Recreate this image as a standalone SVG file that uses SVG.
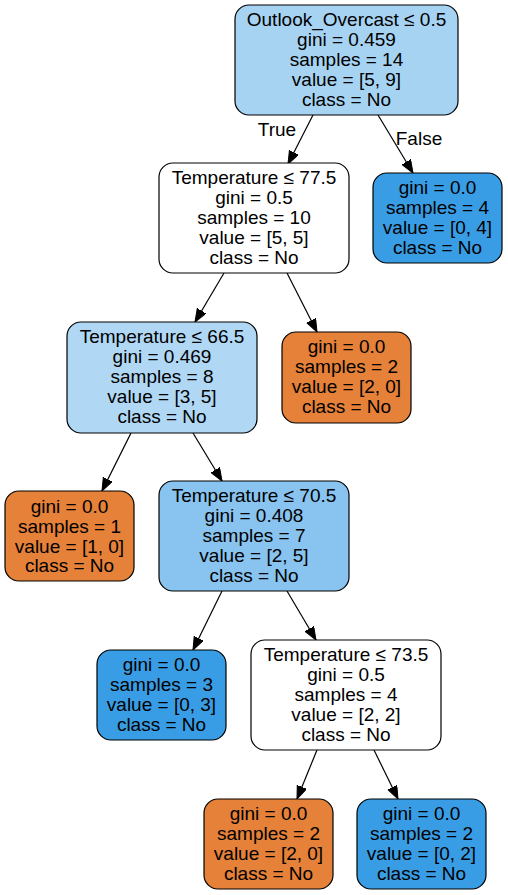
<svg xmlns="http://www.w3.org/2000/svg" width="508" height="895" viewBox="0 0 508 895">
<defs>
<marker id="arr" markerUnits="userSpaceOnUse" markerWidth="14" markerHeight="11" refX="13" refY="5" orient="auto">
<path d="M0,0 L13,5 L0,10 z" fill="#000" stroke="#000" stroke-width="1"/>
</marker>
<style>
.n{stroke:#000;stroke-width:1.2}
text{font-family:"Liberation Sans",Arial,sans-serif;font-size:19px;fill:#000;text-anchor:middle}
.e{stroke:#000;stroke-width:1.2;fill:none;marker-end:url(#arr)}
</style>
</defs>
<rect width="508" height="895" fill="#fff"/>
<g id="edges">
<line class="e" x1="313" y1="115" x2="288" y2="164"/>
<line class="e" x1="378" y1="115" x2="413" y2="173"/>
<line class="e" x1="224" y1="273" x2="195" y2="322"/>
<line class="e" x1="287" y1="273" x2="317" y2="332"/>
<line class="e" x1="131" y1="433" x2="102" y2="491"/>
<line class="e" x1="193" y1="433" x2="222" y2="481"/>
<line class="e" x1="222" y1="591" x2="193" y2="650"/>
<line class="e" x1="287" y1="591" x2="316" y2="640"/>
<line class="e" x1="317" y1="750" x2="297" y2="799"/>
<line class="e" x1="374" y1="750" x2="398" y2="799"/>
<text x="277" y="136">True</text>
<text x="419" y="145">False</text>
</g>
<g id="node0">
<rect class="n" x="235" y="5" width="223" height="110" rx="14" fill="#a7d3f3"/>
<text x="346.5" y="25.5">Outlook_Overcast ≤ 0.5</text>
<text x="346.5" y="45.5">gini = 0.459</text>
<text x="346.5" y="65.5">samples = 14</text>
<text x="346.5" y="85.5">value = [5, 9]</text>
<text x="346.5" y="105.5">class = No</text>
</g>
<g id="node1">
<rect class="n" x="159" y="163" width="190" height="110" rx="14" fill="#ffffff"/>
<text x="254" y="183.5">Temperature ≤ 77.5</text>
<text x="254" y="203.5">gini = 0.5</text>
<text x="254" y="223.5">samples = 10</text>
<text x="254" y="243.5">value = [5, 5]</text>
<text x="254" y="263.5">class = No</text>
</g>
<g id="node2">
<rect class="n" x="373" y="173" width="129" height="90" rx="14" fill="#399de5"/>
<text x="437.5" y="194">gini = 0.0</text>
<text x="437.5" y="214">samples = 4</text>
<text x="437.5" y="234">value = [0, 4]</text>
<text x="437.5" y="254">class = No</text>
</g>
<g id="node3">
<rect class="n" x="67" y="322" width="190" height="111" rx="14" fill="#b0d8f5"/>
<text x="162" y="342.5">Temperature ≤ 66.5</text>
<text x="162" y="362.5">gini = 0.469</text>
<text x="162" y="382.5">samples = 8</text>
<text x="162" y="402.5">value = [3, 5]</text>
<text x="162" y="422.5">class = No</text>
</g>
<g id="node4">
<rect class="n" x="282" y="332" width="129" height="91" rx="14" fill="#e58139"/>
<text x="346.5" y="353">gini = 0.0</text>
<text x="346.5" y="373">samples = 2</text>
<text x="346.5" y="393">value = [2, 0]</text>
<text x="346.5" y="413">class = No</text>
</g>
<g id="node5">
<rect class="n" x="5" y="491" width="129" height="90" rx="14" fill="#e58139"/>
<text x="69.5" y="512.5">gini = 0.0</text>
<text x="69.5" y="532.5">samples = 1</text>
<text x="69.5" y="552.5">value = [1, 0]</text>
<text x="69.5" y="572">class = No</text>
</g>
<g id="node6">
<rect class="n" x="159" y="481" width="190" height="110" rx="14" fill="#88c4ef"/>
<text x="254" y="501.5">Temperature ≤ 70.5</text>
<text x="254" y="521.5">gini = 0.408</text>
<text x="254" y="541.5">samples = 7</text>
<text x="254" y="561.5">value = [2, 5]</text>
<text x="254" y="581.5">class = No</text>
</g>
<g id="node7">
<rect class="n" x="97" y="650" width="129" height="90" rx="14" fill="#399de5"/>
<text x="161.5" y="671">gini = 0.0</text>
<text x="161.5" y="691">samples = 3</text>
<text x="161.5" y="711">value = [0, 3]</text>
<text x="161.5" y="731">class = No</text>
</g>
<g id="node8">
<rect class="n" x="251" y="640" width="190" height="110" rx="14" fill="#ffffff"/>
<text x="346" y="660.5">Temperature ≤ 73.5</text>
<text x="346" y="680.5">gini = 0.5</text>
<text x="346" y="700.5">samples = 4</text>
<text x="346" y="720.5">value = [2, 2]</text>
<text x="346" y="740.5">class = No</text>
</g>
<g id="node9">
<rect class="n" x="204" y="799" width="129" height="90" rx="14" fill="#e58139"/>
<text x="268.5" y="820">gini = 0.0</text>
<text x="268.5" y="840">samples = 2</text>
<text x="268.5" y="860">value = [2, 0]</text>
<text x="268.5" y="880">class = No</text>
</g>
<g id="node10">
<rect class="n" x="357" y="799" width="129" height="90" rx="14" fill="#399de5"/>
<text x="421.5" y="820">gini = 0.0</text>
<text x="421.5" y="840">samples = 2</text>
<text x="421.5" y="860">value = [0, 2]</text>
<text x="421.5" y="880">class = No</text>
</g>
</svg>
